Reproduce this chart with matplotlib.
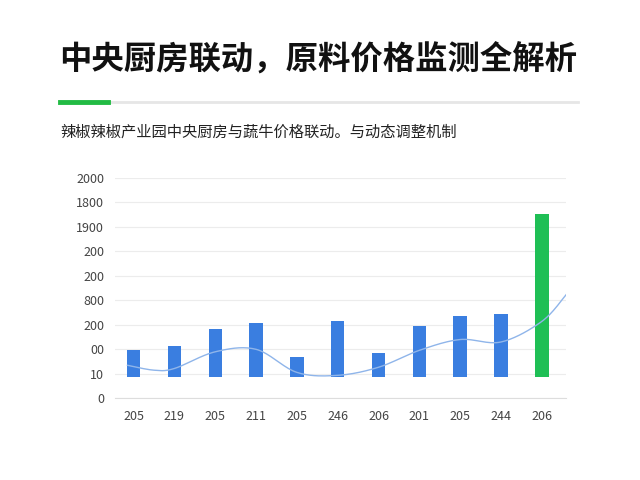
import matplotlib.pyplot as plt
import numpy as np

plt.rcParams['font.family'] = ['Noto Sans CJK SC', 'DejaVu Sans']

title = "中央厨房联动，原料价格监测全解析"
subtitle = "辣椒辣椒产业园中央厨房与蔬牛价格联动。与动态调整机制"
x_labels = ["205", "219", "205", "211", "205", "246", "206", "201", "205", "244", "206"]
y_labels = ["0", "10", "00", "200", "800", "200", "200", "1900", "1800", "2000"]
bar_bottom = 0.86
bar_top = [1.96, 2.12, 2.82, 3.06, 1.67, 3.14, 1.84, 2.94, 3.35, 3.43, 7.51]
line_x = [-0.15, 0.5, 1, 2, 3, 4, 5, 6, 7, 8, 9, 10, 10.6]
line_y = [1.35, 1.15, 1.22, 1.9, 2.0, 1.06, 0.94, 1.27, 1.96, 2.4, 2.3, 3.14, 4.24]


def catmull(xs, ys, n=20):
    xs, ys = np.asarray(xs, float), np.asarray(ys, float)
    px = np.concatenate([[xs[0]], xs, [xs[-1]]])
    py = np.concatenate([[ys[0]], ys, [ys[-1]]])
    ox, oy = [], []
    t = np.linspace(0, 1, n)
    for i in range(1, len(px) - 2):
        for p, out in ((px, ox), (py, oy)):
            p0, p1, p2, p3 = p[i - 1], p[i], p[i + 1], p[i + 2]
            out.extend(0.5 * (2 * p1 + (-p0 + p2) * t + (2 * p0 - 5 * p1 + 4 * p2 - p3) * t**2
                              + (-p0 + 3 * p1 - 3 * p2 + p3) * t**3))
    return ox, oy


fig = plt.figure(figsize=(6.4, 4.8), dpi=100)
fig.text(0.092, 0.857, title, fontsize=23.3, fontweight='bold', color='#111111')
fig.add_artist(plt.Line2D([0.094, 0.903], [0.787, 0.787], color='#e6e6e6', lw=2))
fig.add_artist(plt.Line2D([0.094, 0.169], [0.787, 0.787], color='#22bb44', lw=3.5))
fig.text(0.094, 0.715, subtitle, fontsize=11, color='#222222')

ax = fig.add_axes([0.18, 0.17, 0.705, 0.46])
x = np.arange(len(x_labels))
heights = [t - bar_bottom for t in bar_top]
colors = ['#3a7ee0'] * (len(x) - 1) + ['#1fbf55']
ax.bar(x, heights, bottom=bar_bottom, width=0.33, color=colors, zorder=3)
sx, sy = catmull(line_x, line_y)
ax.plot(sx, sy, color='#8fb5ea', lw=1, zorder=4)

ax.set_xlim(-0.45, 10.6)
ax.set_ylim(0, 9)
ax.set_yticks(range(len(y_labels)))
ax.set_yticklabels(y_labels)
ax.set_xticks(x)
ax.set_xticklabels(x_labels)
ax.grid(axis='y', color='#ececec', lw=0.8, zorder=0)
for s in ['top', 'right', 'left']:
    ax.spines[s].set_visible(False)
ax.spines['bottom'].set_color('#dddddd')
ax.tick_params(length=0, labelsize=9, colors='#444444', pad=8)

fig.savefig('out.png', dpi=100, facecolor='white')
